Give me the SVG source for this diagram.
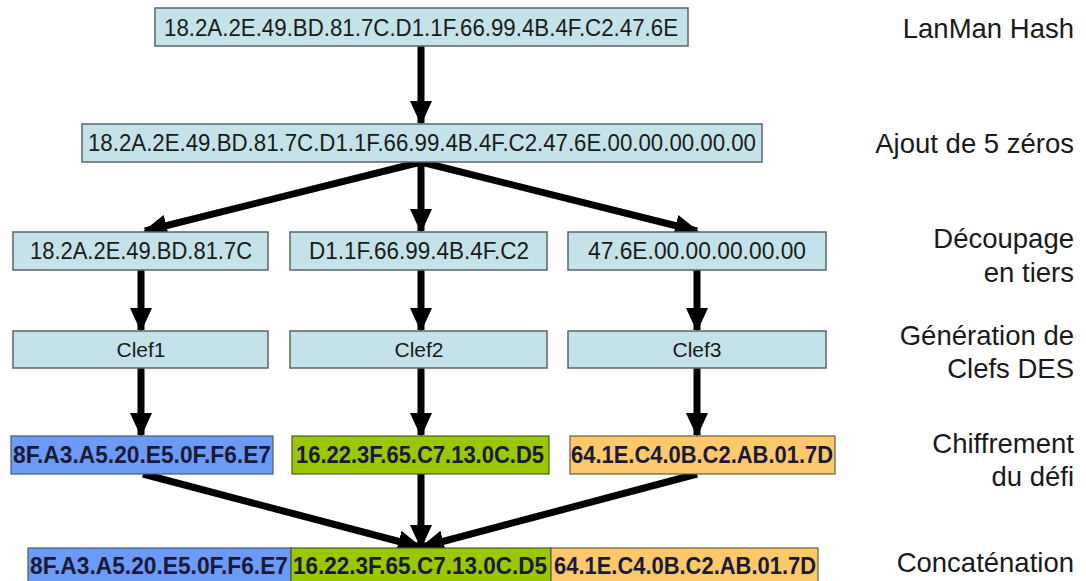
<svg xmlns="http://www.w3.org/2000/svg" width="1086" height="581" viewBox="0 0 1086 581">
  <style>
    .box { fill: #c3e2e9; stroke: #5a6468; stroke-width: 1.5; }
    .blue { fill: #6b9bf7; stroke: #4a5a70; stroke-width: 1.2; }
    .green { fill: #99c800; stroke: #4a5a30; stroke-width: 1.2; }
    .orange { fill: #fcc96a; stroke: #6a5a40; stroke-width: 1.2; }
    .t { font-family: "Liberation Sans", Arial, sans-serif; font-size: 23px; fill: #1a1a1a; text-anchor: middle; }
    .c { font-family: "Liberation Sans", Arial, sans-serif; font-size: 21px; fill: #1a1a1a; text-anchor: middle; }
    .b { font-family: "Liberation Sans", Arial, sans-serif; font-size: 23px; font-weight: bold; fill: #1a1a38; text-anchor: middle; }
    .lbl { font-family: "Liberation Sans", Arial, sans-serif; font-size: 27.5px; fill: #1a1a1a; text-anchor: end; }
    .arrow { stroke: #000; stroke-width: 7; fill: none; marker-end: url(#head); }
  </style>
  <defs>
    <marker id="head" markerUnits="userSpaceOnUse" markerWidth="24" markerHeight="24" viewBox="0 0 24 24" refX="22" refY="12" orient="auto">
      <path d="M0,1 L24,12 L0,23 Z" fill="#000"/>
    </marker>
  </defs>
  <rect width="1086" height="581" fill="#fff"/>

  <!-- connectors -->
  <g id="connectors">
    <line class="arrow" x1="421" y1="46" x2="421" y2="123"/>
    <line class="arrow" x1="421" y1="162" x2="145" y2="231"/>
    <line class="arrow" x1="421" y1="162" x2="421" y2="231"/>
    <line class="arrow" x1="421" y1="162" x2="697" y2="231"/>
    <line class="arrow" x1="141" y1="270" x2="141" y2="330"/>
    <line class="arrow" x1="421" y1="270" x2="421" y2="330"/>
    <line class="arrow" x1="697" y1="270" x2="697" y2="330"/>
    <line class="arrow" x1="141" y1="368" x2="141" y2="435"/>
    <line class="arrow" x1="421" y1="368" x2="421" y2="435"/>
    <line class="arrow" x1="697" y1="368" x2="697" y2="435"/>
    <line class="arrow" x1="143" y1="474" x2="420" y2="547"/>
    <line class="arrow" x1="421" y1="474" x2="421" y2="547"/>
    <line class="arrow" x1="697" y1="474" x2="422" y2="547"/>
  </g>

  <!-- hash -->
  <g id="hash">
    <rect class="box" x="155" y="8" width="533" height="38"/>
    <text class="t" x="421" y="36" textLength="514" lengthAdjust="spacingAndGlyphs">18.2A.2E.49.BD.81.7C.D1.1F.66.99.4B.4F.C2.47.6E</text>
  </g>
  <g id="padded">
    <rect class="box" x="82" y="124" width="680" height="38"/>
    <text class="t" x="422" y="151" textLength="668" lengthAdjust="spacingAndGlyphs">18.2A.2E.49.BD.81.7C.D1.1F.66.99.4B.4F.C2.47.6E.00.00.00.00.00</text>
  </g>

  <!-- thirds -->
  <g id="part1">
    <rect class="box" x="13" y="232" width="255" height="38"/>
    <text class="t" x="141" y="259" textLength="222" lengthAdjust="spacingAndGlyphs">18.2A.2E.49.BD.81.7C</text>
  </g>
  <g id="part2">
    <rect class="box" x="290" y="232" width="257" height="38"/>
    <text class="t" x="419" y="259" textLength="220" lengthAdjust="spacingAndGlyphs">D1.1F.66.99.4B.4F.C2</text>
  </g>
  <g id="part3">
    <rect class="box" x="568" y="232" width="258" height="38"/>
    <text class="t" x="697" y="259" textLength="218" lengthAdjust="spacingAndGlyphs">47.6E.00.00.00.00.00</text>
  </g>

  <!-- DES keys -->
  <g id="clef1">
    <rect class="box" x="13" y="331" width="255" height="37"/>
    <text class="c" x="141" y="357">Clef1</text>
  </g>
  <g id="clef2">
    <rect class="box" x="290" y="331" width="257" height="37"/>
    <text class="c" x="419" y="357">Clef2</text>
  </g>
  <g id="clef3">
    <rect class="box" x="568" y="331" width="258" height="37"/>
    <text class="c" x="697" y="357">Clef3</text>
  </g>

  <!-- encrypted challenge -->
  <g id="enc1">
    <rect class="blue" x="11" y="436" width="262" height="38"/>
    <text class="b" x="142" y="463" textLength="258" lengthAdjust="spacingAndGlyphs">8F.A3.A5.20.E5.0F.F6.E7</text>
  </g>
  <g id="enc2">
    <rect class="green" x="292" y="436" width="257" height="38"/>
    <text class="b" x="420" y="463" textLength="248" lengthAdjust="spacingAndGlyphs">16.22.3F.65.C7.13.0C.D5</text>
  </g>
  <g id="enc3">
    <rect class="orange" x="570" y="436" width="265" height="38"/>
    <text class="b" x="702" y="463" textLength="262" lengthAdjust="spacingAndGlyphs">64.1E.C4.0B.C2.AB.01.7D</text>
  </g>

  <!-- concatenation -->
  <g id="result">
    <rect class="blue" x="28" y="548" width="263" height="34"/>
    <rect class="green" x="291" y="548" width="260" height="34"/>
    <rect class="orange" x="551" y="548" width="267" height="34"/>
    <text class="b" x="159" y="574" textLength="258" lengthAdjust="spacingAndGlyphs">8F.A3.A5.20.E5.0F.F6.E7</text>
    <text class="b" x="420" y="574" textLength="254" lengthAdjust="spacingAndGlyphs">16.22.3F.65.C7.13.0C.D5</text>
    <text class="b" x="685" y="574" textLength="262" lengthAdjust="spacingAndGlyphs">64.1E.C4.0B.C2.AB.01.7D</text>
  </g>

  <!-- step labels -->
  <g id="labels">
    <text class="lbl" x="1074" y="38">LanMan Hash</text>
    <text class="lbl" x="1074" y="153">Ajout de 5 zéros</text>
    <text class="lbl" x="1074" y="248">Découpage</text>
    <text class="lbl" x="1074" y="282">en tiers</text>
    <text class="lbl" x="1074" y="345">Génération de</text>
    <text class="lbl" x="1074" y="378">Clefs DES</text>
    <text class="lbl" x="1074" y="453">Chiffrement</text>
    <text class="lbl" x="1074" y="486">du défi</text>
    <text class="lbl" x="1074" y="572">Concaténation</text>
  </g>
</svg>
